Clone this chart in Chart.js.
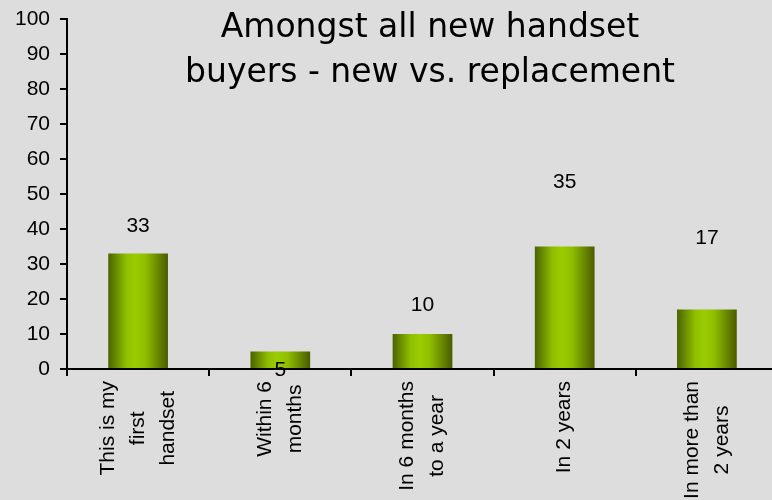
<!DOCTYPE html>
<html lang="en">
<head>
  <meta charset="UTF-8" />
  <title>New vs. replacement handset buyers</title>
  <script src="https://cdn.jsdelivr.net/npm/chart.js"></script>
  <style>
    html, body {
      margin: 0;
      padding: 0;
      overflow: hidden;
      background: #dddddd;
    }
    #wrap {
      width: 780px;
      height: 500px;
    }
  </style>
</head>
<body>
  <div id="wrap">
    <canvas id="buyersChart" width="780" height="500"></canvas>
  </div>

  <script>
    // categories (one entry per line of the rotated label)
    const categories = [
      ['This is my', 'first', 'handset'],
      ['Within 6', 'months'],
      ['In 6 months', 'to a year'],
      ['In 2 years'],
      ['In more than', '2 years']
    ];
    const shares = [33, 5, 10, 35, 17];
    const yMin = 0;
    const yMax = 100;
    const yStep = 10;
    const titleLines = ['Amongst all new handset', 'buyers - new vs. replacement'];

    // how far each value label sits above its bar top (px, negative = below)
    const valueLift = [27, -19, 29, 64, 71];

    const barShare = 0.42;
    const axisFont = '21px "Liberation Sans", Arial, sans-serif';

    // shiny cylinder look: dark olive edges, bright lime middle
    function barFill(context) {
      const chart = context.chart;
      const xs = chart.scales.x;
      if (!chart.chartArea || !xs) return '#99cc00';
      const cx = xs.getPixelForValue(context.dataIndex);
      const half = xs.width / categories.length * barShare / 2;
      const g = chart.ctx.createLinearGradient(cx - half, 0, cx + half, 0);
      g.addColorStop(0, '#4a6300');
      g.addColorStop(0.3, '#8fbf00');
      g.addColorStop(0.45, '#9acc00');
      g.addColorStop(0.62, '#8fbf00');
      g.addColorStop(1, '#4a5b00');
      return g;
    }

    const overlay = {
      id: 'overlay',
      afterDraw(chart) {
        const ctx = chart.ctx;
        const xs = chart.scales.x;
        const ys = chart.scales.y;
        ctx.save();
        ctx.fillStyle = '#000';

        // title
        ctx.font = '33px "DejaVu Sans", Tahoma, sans-serif';
        ctx.textAlign = 'center';
        ctx.textBaseline = 'alphabetic';
        titleLines.forEach((t, i) => ctx.fillText(t, 430, 37 + i * 45));

        // value labels
        ctx.font = axisFont;
        ctx.textBaseline = 'middle';
        shares.forEach((v, i) => {
          ctx.fillText(String(v), xs.getPixelForValue(i), ys.getPixelForValue(v) - valueLift[i]);
        });

        // rotated category labels, block ends just under the axis
        categories.forEach((lines, i) => {
          const cx = xs.getPixelForValue(i);
          const w = Math.max(...lines.map(l => ctx.measureText(l).width));
          lines.forEach((l, j) => {
            ctx.save();
            ctx.translate(cx + (j - (lines.length - 1) / 2) * 30, 381 + w / 2);
            ctx.rotate(-Math.PI / 2);
            ctx.fillText(l, 0, 0);
            ctx.restore();
          });
        });
        ctx.restore();
      }
    };

    new Chart(document.getElementById('buyersChart'), {
      type: 'bar',
      data: {
        labels: categories.map(c => c.join(' ')),
        datasets: [{
          data: shares,
          backgroundColor: barFill,
          borderWidth: 0,
          categoryPercentage: 1,
          barPercentage: barShare
        }]
      },
      options: {
        responsive: false,
        animation: false,
        layout: { padding: { top: 19, right: 2, left: 0, bottom: 0 } },
        plugins: {
          legend: { display: false },
          tooltip: { enabled: false }
        },
        scales: {
          x: {
            grid: { drawOnChartArea: false, tickLength: 7, color: '#000', lineWidth: 2 },
            border: { color: '#000', width: 2 },
            ticks: { display: false, autoSkip: false },
            afterFit(scale) { scale.height = 131; }
          },
          y: {
            min: yMin,
            max: yMax,
            grid: { drawOnChartArea: false, tickLength: 7, color: '#000', lineWidth: 2 },
            border: { color: '#000', width: 2 },
            ticks: {
              stepSize: yStep,
              padding: 10,
              color: '#000',
              font: { family: '"Liberation Sans", Arial, sans-serif', size: 21 }
            },
            afterFit(scale) {
              scale.width = 67;
              scale.paddingTop = 0;
              scale.paddingBottom = 0;
            }
          }
        }
      },
      plugins: [overlay]
    });
  </script>
</body>
</html>
